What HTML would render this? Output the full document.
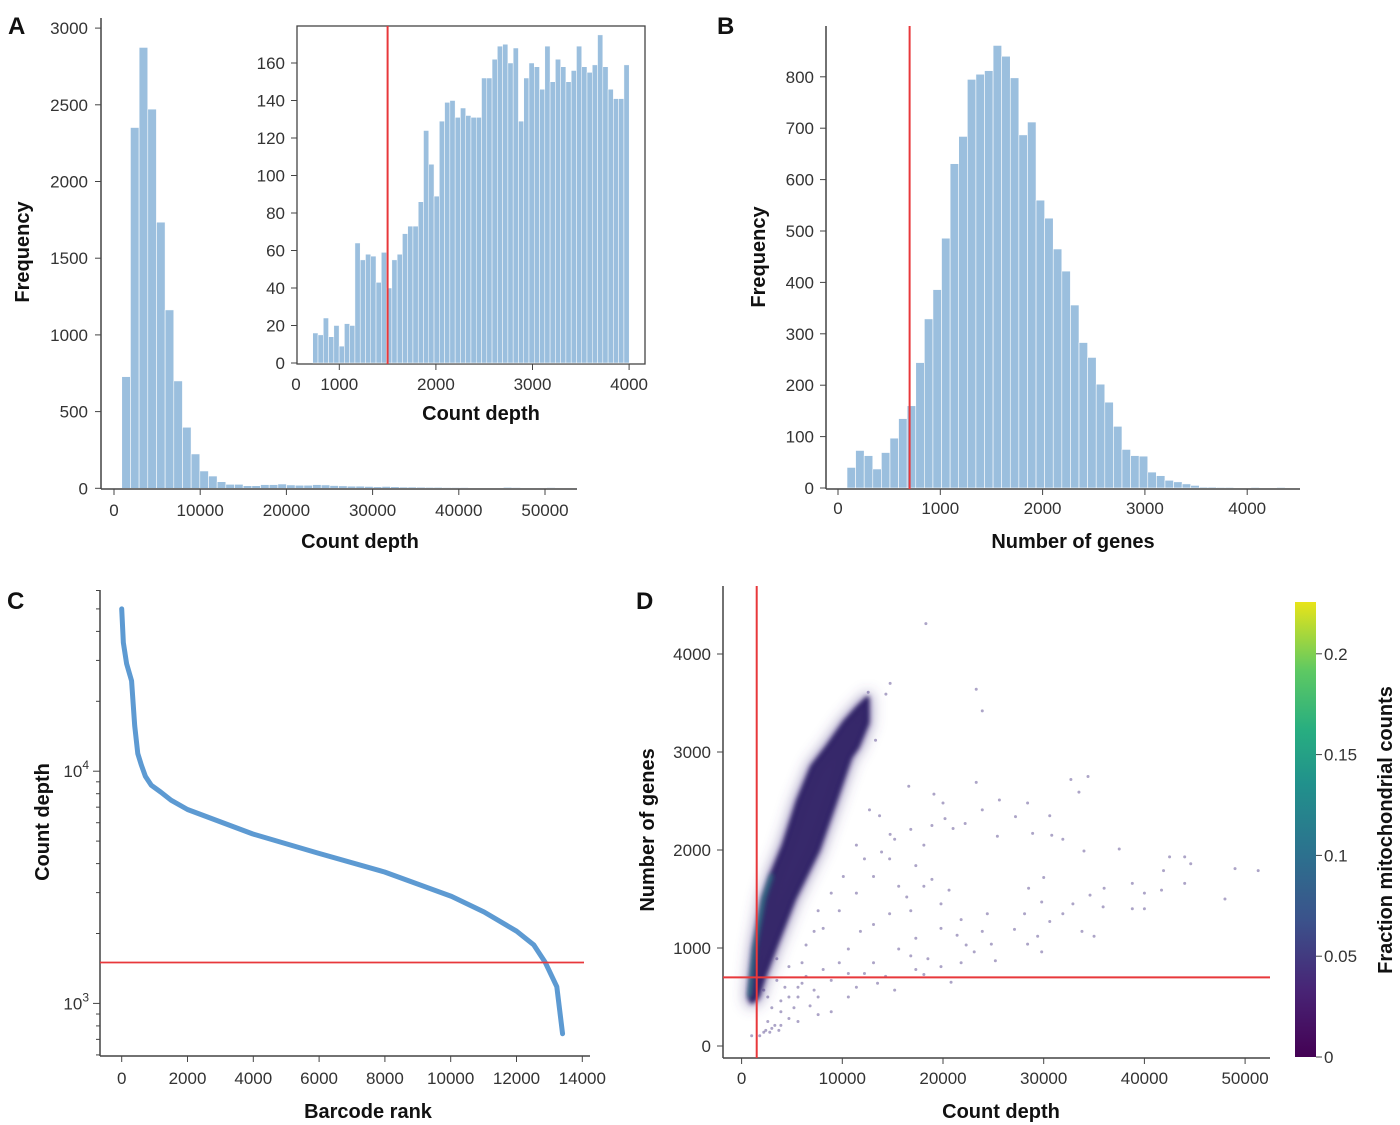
<!DOCTYPE html>
<html><head><meta charset="utf-8"><style>
html,body{margin:0;padding:0;background:#fff;}
svg{display:block;font-family:"Liberation Sans",Arial,sans-serif;}
.tk{font-size:17px;fill:#333;}
.ttl{font-size:20px;font-weight:bold;fill:#111;}
.pl{font-size:24px;font-weight:bold;fill:#111;}
</style></head><body>
<svg id="fig" width="1400" height="1125" viewBox="0 0 1400 1125">
<defs>
<linearGradient id="viridis" x1="0" y1="1" x2="0" y2="0">
<stop offset="0" stop-color="#440154"/><stop offset="0.15" stop-color="#482576"/><stop offset="0.3" stop-color="#3b528b"/><stop offset="0.45" stop-color="#2c728e"/><stop offset="0.6" stop-color="#21918c"/><stop offset="0.72" stop-color="#28ae80"/><stop offset="0.85" stop-color="#5ec962"/><stop offset="1" stop-color="#e8e419"/>
</linearGradient>
<filter id="soft" x="-20%" y="-20%" width="140%" height="140%"><feGaussianBlur stdDeviation="2.5"/></filter>
<filter id="soft2" x="-20%" y="-20%" width="140%" height="140%"><feGaussianBlur stdDeviation="6"/></filter>
</defs>
<text class="pl" x="8" y="34">A</text>
<text class="pl" x="717" y="34">B</text>
<text class="pl" x="7" y="609">C</text>
<text class="pl" x="636" y="609">D</text>
<text class="ttl" transform="translate(29,252) rotate(-90)" text-anchor="middle">Frequency</text>
<text class="ttl" x="360" y="548" text-anchor="middle">Count depth</text>
<text class="ttl" x="481" y="420" text-anchor="middle">Count depth</text>
<text class="ttl" transform="translate(765,257) rotate(-90)" text-anchor="middle">Frequency</text>
<text class="ttl" x="1073" y="548" text-anchor="middle">Number of genes</text>
<text class="ttl" transform="translate(49,822) rotate(-90)" text-anchor="middle">Count depth</text>
<text class="ttl" x="368" y="1118" text-anchor="middle">Barcode rank</text>
<text class="ttl" transform="translate(654,830) rotate(-90)" text-anchor="middle">Number of genes</text>
<text class="ttl" x="1001" y="1118" text-anchor="middle">Count depth</text>
<text class="ttl" transform="translate(1392,830) rotate(-90)" text-anchor="middle">Fraction mitochondrial counts</text>
</svg>
<script>
// ---- Panel A main histogram data ----
const aBinStart = 900;
const aBinWidth = 1006;
const aCounts = [728,2352,2874,2472,1735,1163,700,398,224,113,80,43,26,26,17,17,24,24,28,22,20,20,24,22,18,16,14,14,12,10,12,10,8,8,7,6,6,5,5,5,4,4,4,4,6,5,4,4,3,5,3,3];
const aYTicks = [0,500,1000,1500,2000,2500,3000];
const aXTicks = [0,10000,20000,30000,40000,50000];
// ---- Panel A inset data ----
const iBinStart = 725;
const iBinWidth = 54.6;
const iCounts = [16,15,24,14,20,9,21,20,64,55,58,57,43,59,40,55,58,69,73,73,86,124,106,89,129,139,140,131,136,132,131,131,152,152,162,169,170,160,168,129,152,160,158,146,169,150,162,158,150,156,169,158,155,159,175,158,146,141,141,159];
const iYTicks = [0,20,40,60,80,100,120,140,160];
const iXTicks = [1000,2000,3000,4000];
const iThreshold = 1500;
// ---- Panel B data ----
const bBinStart = 88;
const bBinWidth = 84;
const bCounts = [40,73,63,37,69,97,135,160,244,329,386,486,631,684,795,805,812,861,840,798,687,712,560,525,465,422,356,283,254,202,167,120,75,63,62,31,24,15,12,8,5,2,2,1,1,0,0,1,0,0,1];
const bYTicks = [0,100,200,300,400,500,600,700,800];
const bXTicks = [0,1000,2000,3000,4000];
const bThreshold = 700;
// ---- Panel C data ----
const cRank = [0,50,150,300,395,489,600,721,900,1186,1500,2000,3977,5955,7990,10025,11015,12003,12527,12876,13225,13400];
const cDepth = [50000,35800,29000,24500,15700,11900,10600,9500,8700,8130,7500,6840,5370,4445,3680,2890,2476,2046,1785,1500,1180,740];
const cXTicks = [0,2000,4000,6000,8000,10000,12000,14000];
const cThreshold = 1500;
// ---- Panel D data ----
const dBandUpperCount = [800,1300,2200,3000,4200,5600,7000,8500,10200,11500,12500];
const dBandUpperGenes = [500,1000,1500,1750,2050,2500,2850,3050,3300,3450,3550];
const dBandLowerCount = [12500,11500,10800,9300,7600,5200,3300,2200,1600,1000];
const dBandLowerGenes = [3300,3050,2950,2500,2000,1500,1000,700,500,450];
const dCount = [18300,14750,14330,12570,23300,23900,13300,34400,32700,33500,16600,19100,23300,25600,28400,20000,12700,13700,30600,27200,23900,20200,16800,21000,22200,18900,28900,30800,31900,25400,14750,15200,37500,34000,42500,44000,44600,49000,51300,41900,44000,41700,38800,40000,38800,40000,48000,36000,34600,35900,35000,33800,32900,31900,30600,30000,29800,28500,28100,27100,28400,29400,29800,25200,24800,23900,23100,22300,21400,21800,20800,19800,18500,18100,17300,16800,15200,14300,13500,12200,11400,10600,8900,7600,6800,5600,4700,3900,3000,2200,2600,3900,5600,7200,8900,10600,13100,15600,17300,19800,21800,24400,19800,18100,16400,14700,13100,11800,10600,9700,8100,6400,5600,6400,8100,9700,11400,13100,14700,12200,13900,11400,10100,8900,7600,7200,17300,18900,20600,18100,15600,16800,1800,1000,2400,3300,3700,2800,4700,6000,7600,3900,5200,3000,4300,2600,3500,4700,2200,6000,3500];
const dGenes = [4310,3700,3590,3610,3640,3420,3120,2750,2720,2590,2650,2570,2690,2510,2480,2480,2410,2350,2350,2340,2410,2320,2210,2220,2270,2250,2170,2150,2110,2140,2160,2110,2010,1990,1930,1930,1860,1810,1790,1790,1660,1590,1660,1560,1400,1400,1500,1610,1540,1420,1120,1170,1450,1350,1270,1720,1470,1610,1350,1190,1040,1120,960,870,1040,1170,960,1030,1130,850,650,810,890,730,780,920,570,710,640,740,600,500,350,320,410,250,280,210,180,140,250,350,500,570,670,740,850,990,1100,1200,1290,1350,1450,1630,1520,1350,1240,1170,990,850,780,710,600,1030,1200,1380,1560,1730,1910,1910,1980,2050,1730,1560,1380,1170,1840,1700,1590,2050,1630,1380,105,105,160,210,160,140,500,640,500,460,390,390,600,500,670,810,570,850,890];
const dXTicks = [0,10000,20000,30000,40000,50000];
const dYTicks = [0,1000,2000,3000,4000];
const dThreshCount = 1500;
const dThreshGenes = 700;
const cbTicks = [0,0.05,0.1,0.15,0.2];
const cbTickLabels = ["0","0.05","0.1","0.15","0.2"];

const NS = "http://www.w3.org/2000/svg";
const svg = document.getElementById('fig');
function mk(tag, attrs, parent){ const e=document.createElementNS(NS,tag); for(const k in attrs) e.setAttribute(k,attrs[k]); (parent||svg).appendChild(e); return e; }
function txt(x,y,s,anchor){ const t=mk('text',{x:x,y:y,'class':'tk','text-anchor':anchor||'middle'}); t.textContent=s; return t; }
const BAR='#9bbfde', AX='#444';

const xA=v=>114+v*0.00862, yA=v=>488.3-v*0.1534;
const xI=v=>339.3+(v-1000)*0.0966, yI=v=>363-v*1.875;
const xB=v=>838+v*0.1023, yB=v=>488-v*0.514;
const xC=v=>121.7+v*0.0329, yC=v=>1003.4-(Math.log10(v)-3)*232.2;
const xD=v=>741.6+v*0.01007, yD=v=>1046-v*0.098;

// ===== Panel A main =====
aCounts.forEach((c,i)=>{
  const x0=xA(aBinStart+i*aBinWidth), x1=xA(aBinStart+(i+1)*aBinWidth);
  const r=mk('rect',{x:x0,y:yA(c),width:x1-x0,height:yA(0)-yA(c),fill:BAR,stroke:'#fff','stroke-width':0.6});
  
  
});
let l=mk('line',{x1:101,y1:18,x2:101,y2:489,stroke:AX,'stroke-width':1.5});
 
l=mk('line',{x1:101,y1:489,x2:577,y2:489,stroke:AX,'stroke-width':1.5});
 
aYTicks.forEach(v=>{ mk('line',{x1:95,x2:101,y1:yA(v),y2:yA(v),stroke:AX}); const t=txt(88,yA(v)+6,v,'end');   });
aXTicks.forEach(v=>{ mk('line',{x1:xA(v),x2:xA(v),y1:489,y2:495,stroke:AX}); const t=txt(xA(v),516,v);   });

// ===== Inset =====
let fr=mk('rect',{x:297,y:26,width:348,height:338,fill:'#fff',stroke:AX,'stroke-width':1.3});
 
iCounts.forEach((c,i)=>{
  const x0=xI(iBinStart+i*iBinWidth), x1=xI(iBinStart+(i+1)*iBinWidth);
  const r=mk('rect',{x:x0,y:yI(c),width:x1-x0,height:yI(0)-yI(c),fill:BAR,stroke:'#fff','stroke-width':0.5});
  
  
});
l=mk('line',{x1:xI(iThreshold),x2:xI(iThreshold),y1:26,y2:364,stroke:'#e8383b','stroke-width':2});
 
iYTicks.forEach(v=>{ mk('line',{x1:291,x2:297,y1:yI(v),y2:yI(v),stroke:AX}); const t=txt(285,yI(v)+6,v,'end');   });
iXTicks.forEach(v=>{ mk('line',{x1:xI(v),x2:xI(v),y1:364,y2:370,stroke:AX}); const t=txt(xI(v),390,v);   });
let t0=txt(296,390,'0');  

// ===== Panel B =====
bCounts.forEach((c,i)=>{
  if(c<=0) return;
  const x0=xB(bBinStart+i*bBinWidth), x1=xB(bBinStart+(i+1)*bBinWidth);
  const r=mk('rect',{x:x0,y:yB(c),width:x1-x0,height:Math.max(0.8,yB(0)-yB(c)),fill:BAR,stroke:'#fff','stroke-width':0.6});
  
  
});
l=mk('line',{x1:826,y1:26,x2:826,y2:489,stroke:AX,'stroke-width':1.5});
 
l=mk('line',{x1:826,y1:489,x2:1300,y2:489,stroke:AX,'stroke-width':1.5});
 
l=mk('line',{x1:xB(bThreshold),x2:xB(bThreshold),y1:26,y2:489,stroke:'#e8383b','stroke-width':2});
 
bYTicks.forEach(v=>{ mk('line',{x1:820,x2:826,y1:yB(v),y2:yB(v),stroke:AX}); const t=txt(814,yB(v)+6,v,'end');   });
bXTicks.forEach(v=>{ mk('line',{x1:xB(v),x2:xB(v),y1:489,y2:495,stroke:AX}); const t=txt(xB(v),514,v);   });

// ===== Panel C =====
l=mk('line',{x1:100,y1:590,x2:100,y2:1056,stroke:AX,'stroke-width':1.5});
 
l=mk('line',{x1:100,y1:1056,x2:590,y2:1056,stroke:AX,'stroke-width':1.5});
 
for(let d=100; d<=100000; d*=10){ for(let m=1;m<10;m++){ const v=d*m; const y=yC(v); if(y<590||y>1056) continue; mk('line',{x1:m===1?93:96,x2:100,y1:y,y2:y,stroke:AX}); } }
[[1000,'3'],[10000,'4']].forEach(p=>{ const t=mk('text',{x:89,y:yC(p[0])+6,'class':'tk','text-anchor':'end'}); t.textContent='10'; const s=mk('tspan',{dy:-8,'font-size':12},t); s.textContent=p[1];   });
cXTicks.forEach(v=>{ mk('line',{x1:xC(v),x2:xC(v),y1:1056,y2:1062,stroke:AX}); const t=txt(xC(v),1084,v);   });
let cp=mk('polyline',{points:cRank.map((r,i)=>xC(r)+','+yC(cDepth[i])).join(' '),fill:'none',stroke:'#5d9ad2','stroke-width':5,'stroke-linejoin':'round','stroke-linecap':'round'});
 
l=mk('line',{x1:100,x2:584,y1:yC(cThreshold),y2:yC(cThreshold),stroke:'#e8383b','stroke-width':1.8});
 

// ===== Panel D =====
l=mk('line',{x1:723,y1:586,x2:723,y2:1058,stroke:AX,'stroke-width':1.5});
 
l=mk('line',{x1:723,y1:1058,x2:1270,y2:1058,stroke:AX,'stroke-width':1.5});
 
dYTicks.forEach(v=>{ mk('line',{x1:717,x2:723,y1:yD(v),y2:yD(v),stroke:AX}); const t=txt(711,yD(v)+6,v,'end');   });
dXTicks.forEach(v=>{ mk('line',{x1:xD(v),x2:xD(v),y1:1058,y2:1064,stroke:AX}); const t=txt(xD(v),1084,v);   });
dCount.forEach((c,i)=>{
  const p=mk('circle',{cx:xD(c),cy:yD(dGenes[i]),r:1.5,fill:'#5a4a90','fill-opacity':0.5});
  
  
});
const bandPts=dBandUpperCount.map((c,i)=>xD(c)+','+yD(dBandUpperGenes[i])).concat(dBandLowerCount.map((c,i)=>xD(c)+','+yD(dBandLowerGenes[i]))).join(' ');
let halo=mk('polygon',{points:bandPts,fill:'#5a4a90','fill-opacity':0.45,stroke:'#5a4a90','stroke-width':14,'stroke-opacity':0.35,'stroke-linejoin':'round',filter:'url(#soft2)'});
 
let band=mk('polygon',{points:bandPts,fill:'#2a1f63','fill-opacity':0.92,stroke:'#2a1f63','stroke-width':4,'stroke-linejoin':'round',filter:'url(#soft)'});
 
let edge=mk('polyline',{points:dBandUpperCount.slice(0,4).map((c,i)=>xD(c)+','+yD(dBandUpperGenes[i])).join(' '),fill:'none',stroke:'#2b8a8c','stroke-width':4,'stroke-opacity':0.7,filter:'url(#soft)'});
 
l=mk('line',{x1:xD(dThreshCount),x2:xD(dThreshCount),y1:586,y2:1058,stroke:'#e8383b','stroke-width':2});
 
l=mk('line',{x1:723,x2:1270,y1:yD(dThreshGenes),y2:yD(dThreshGenes),stroke:'#e8383b','stroke-width':2});
 

// ===== Colorbar =====
const yCB=v=>1057-v*2016;
let cb=mk('rect',{x:1295,y:602,width:21,height:455,fill:'url(#viridis)'});
 
cbTicks.forEach((v,i)=>{ mk('line',{x1:1316,x2:1322,y1:yCB(v),y2:yCB(v),stroke:AX}); const t=txt(1324,yCB(v)+6,cbTickLabels[i],'start');   });
</script>
</body></html>
